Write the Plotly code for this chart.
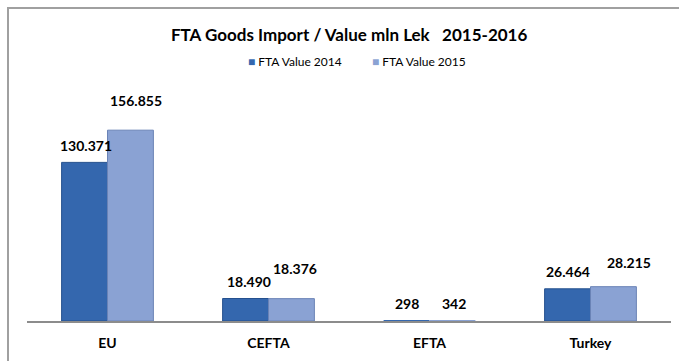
import plotly.graph_objects as go

# Goods imported under free trade agreements, mln Lek
categories = ["EU", "CEFTA", "EFTA", "Turkey"]
value_2014 = [130371, 18490, 298, 26464]
value_2015 = [156855, 18376, 342, 28215]
series_names = ["FTA Value 2014", "FTA Value 2015"]

# label placement (pixels) relative to each bar top / centre
label_dy_2014 = [17, 17, 17, 17]
label_dy_2015 = [30, 30, 17, 24]
label_dx_2014 = [1, 3, 0, 0]
label_dx_2015 = [5, 3, 1, 15]

W, H = 679, 361
ML, MR, MT, MB = 27, 8, 102, 40
PW, PH = W - ML - MR, H - MT - MB

FONT = "Lato"
dark_fill, dark_edge = "#3467AE", "#24508E"
light_fill, light_edge = "#8AA2D3", "#6A83B6"


def fmt(v):
    return f"{v:,}".replace(",", ".")


def px_x(p):
    return (p - ML) / PW


def px_y(p):
    return (H - MB - p) / PH


def edge_widths(vals):
    # tiny bars get no outline so they stay invisible
    return [1 if v > 1000 else 0 for v in vals]


fig = go.Figure()
fig.add_trace(go.Bar(x=categories, y=value_2014, name=series_names[0],
                     marker=dict(color=dark_fill,
                                 line=dict(color=dark_edge, width=edge_widths(value_2014)))))
fig.add_trace(go.Bar(x=categories, y=value_2015, name=series_names[1],
                     marker=dict(color=light_fill,
                                 line=dict(color=light_edge, width=edge_widths(value_2015)))))

annotations = []
for vals, dys, dxs, side in ((value_2014, label_dy_2014, label_dx_2014, -1),
                             (value_2015, label_dy_2015, label_dx_2015, 1)):
    for cat, v, dy, dx in zip(categories, vals, dys, dxs):
        annotations.append(dict(
            x=cat, y=v, xref="x", yref="y", text=fmt(v), showarrow=False,
            xanchor="center", yanchor="middle",
            xshift=side * 23 + dx, yshift=dy,
            font=dict(family=FONT, size=14, color="#000000", weight="bold")))

# chart title
annotations.append(dict(
    x=0.5, y=px_y(35), xref="paper", yref="paper",
    text="<b>FTA Goods Import / Value mln Lek   2015-2016</b>", showarrow=False,
    xanchor="center", yanchor="middle",
    font=dict(family=FONT, size=17, color="#000000")))

# compact legend with small square keys
for name, col, left in ((series_names[0], dark_fill, 246),
                        (series_names[1], light_fill, 370)):
    annotations.append(dict(
        x=px_x(left), y=px_y(61), xref="paper", yref="paper",
        text=f'<span style="color:{col}">■</span> {name}', showarrow=False,
        xanchor="left", yanchor="middle",
        font=dict(family=FONT, size=12, color="#000000")))

fig.update_layout(
    width=W, height=H,
    margin=dict(l=ML, r=MR, t=MT, b=MB),
    paper_bgcolor="white", plot_bgcolor="white",
    barmode="group", bargap=0.43, bargroupgap=0,
    showlegend=False,
    xaxis=dict(showline=True, linecolor="#8C8C8C", linewidth=1.5, ticks="",
               showgrid=False, zeroline=False, ticklabelstandoff=8,
               tickfont=dict(family=FONT, size=14, color="#000000", weight="bold")),
    yaxis=dict(range=[0, 180000], visible=False, showgrid=False, zeroline=False),
    annotations=annotations,
    shapes=[dict(type="rect", xref="paper", yref="paper",
                 x0=px_x(8), x1=px_x(700), y0=px_y(380), y1=px_y(8),
                 line=dict(color="#A0A0A0", width=2), fillcolor="rgba(0,0,0,0)",
                 layer="below")],
)

fig.write_html("out.html")
